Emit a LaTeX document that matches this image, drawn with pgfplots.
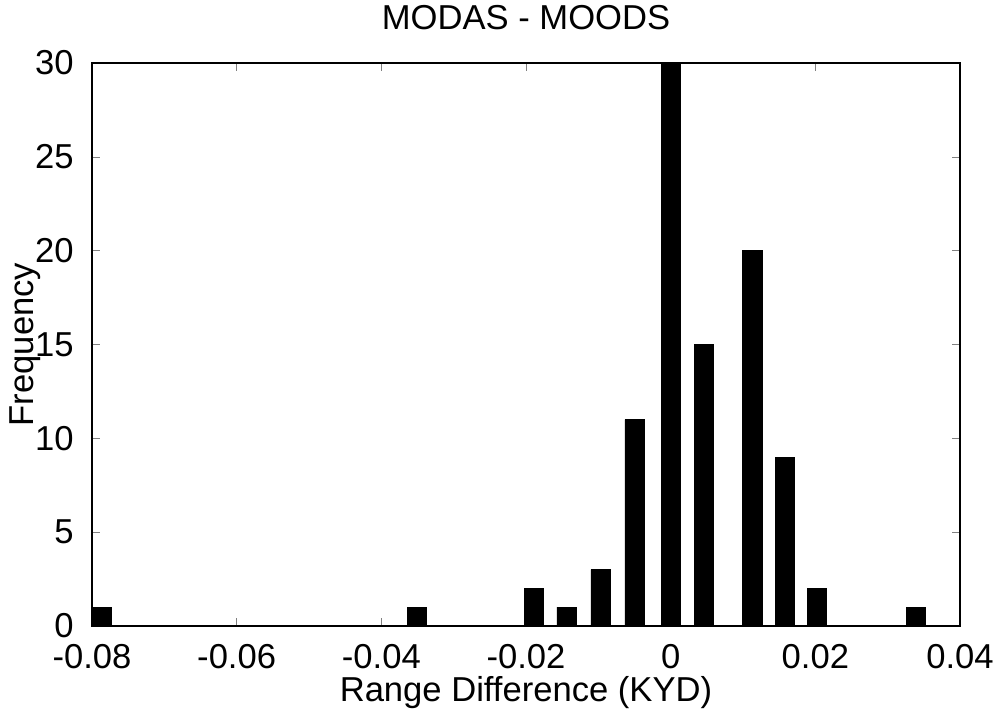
\documentclass[border=0pt]{standalone}
\usepackage{fontspec}
\setmainfont{Liberation Sans}
\usepackage{pgfplots}
\pgfplotsset{compat=1.18}

\begin{document}
\begin{tikzpicture}
\begin{axis}[
    scale only axis,
    width=434pt, height=281.5pt,
    xmin=-0.08, xmax=0.04,
    ymin=0, ymax=30,
    ybar, bar width=0.00263,
    scaled x ticks=false,
    xtick={-0.08,-0.06,-0.04,-0.02,0,0.02,0.04},
    xticklabels={-0.08,-0.06,-0.04,-0.02,0,0.02,0.04},
    ytick={0,5,10,15,20,25,30},
    tick align=inside,
    major tick length=4pt,
    axis line style={line width=0.8pt},
    font=\fontsize{17.3}{20}\selectfont,
    /pgf/number format/assume math mode=true,
    xticklabel style={inner sep=0pt, anchor=north, yshift=-9pt},
    yticklabel style={inner sep=0pt, anchor=east, xshift=-9pt},
    title={MODAS - MOODS},
    title style={at={(axis description cs:0.5,1)}, anchor=center, yshift=16.5pt, inner sep=0pt},
    xlabel={Range Difference (KYD)},
    xlabel style={at={(axis description cs:0.5,0)}, anchor=north, yshift=-25pt, inner sep=0pt},
    ylabel={Frequency},
    ylabel style={at={(axis description cs:0,0.5)}, anchor=center, yshift=33.5pt, inner sep=0pt},
]
\addplot[fill=black, draw=black] coordinates {
    (-0.0787,1) (-0.0351,1) (-0.0189,2) (-0.0144,1) (-0.0097,3)
    (-0.0050,11) (0.0000,30) (0.0046,15) (0.0113,20) (0.0158,9)
    (0.0202,2) (0.0339,1)
};
\end{axis}
\path (current axis.south west) ++(-46pt,-45.5pt) coordinate (bbl);
\path (current axis.north east) ++(17.5pt,31.5pt) coordinate (bbr);
\path (bbl) rectangle (bbr);
\end{tikzpicture}
\end{document}
